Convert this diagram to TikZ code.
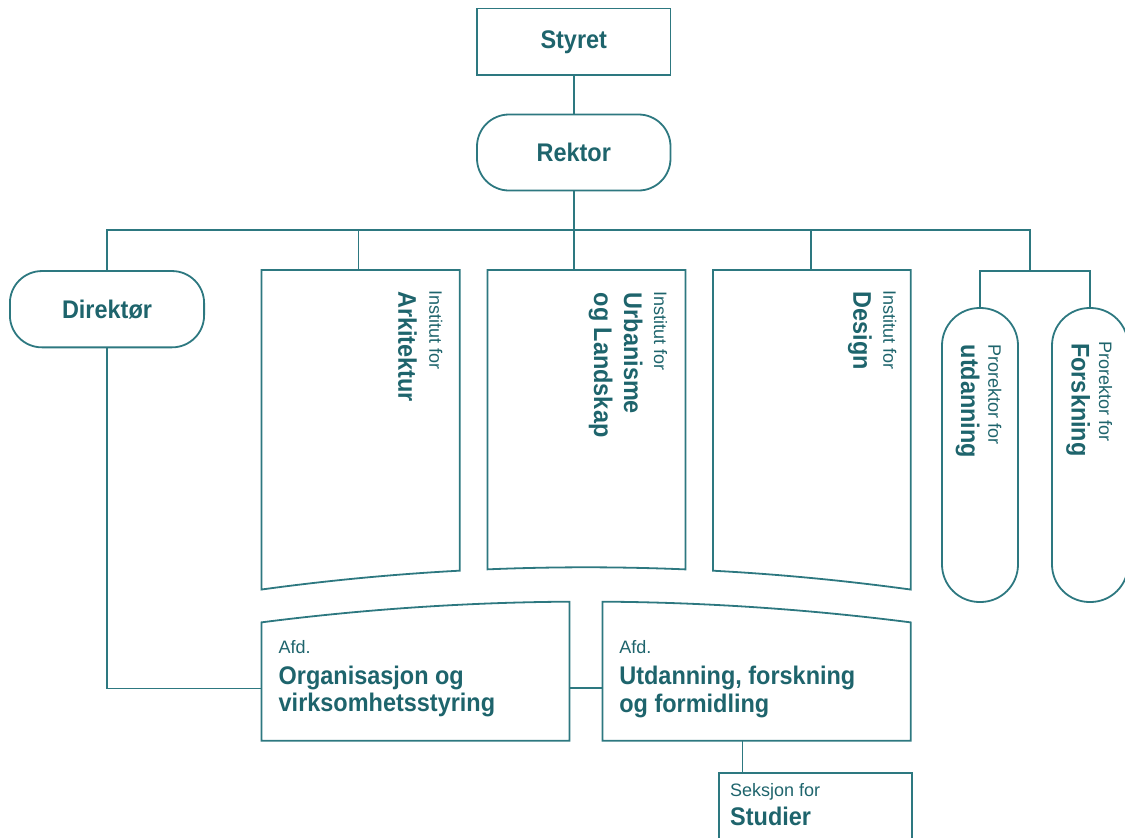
\documentclass[tikz,border=0pt]{standalone}
\usepackage{fontspec}
\setmainfont{Liberation Sans}[BoldFeatures={FakeStretch=0.92}]
\definecolor{tealtext}{HTML}{1E646C}
\definecolor{tealline}{HTML}{2D7880}
\newcommand\kbig{\fontsize{25.5pt}{28pt}\selectfont\bfseries}
\newcommand\ksmall{\fontsize{18pt}{22pt}\selectfont}
\begin{document}
\begin{tikzpicture}[x=1pt,y=-1pt,
  declare function={yI(\t)=567.3+2.11*((\t-586)/100)*((\t-586)/100);
                    yA(\t)=601.6+1.97*((\t-586)/100)*((\t-586)/100);},
  frame/.style={draw=tealline, line width=1.8pt},
  link/.style={draw=tealline, line width=1.8pt},
  big/.style={text=tealtext, font=\kbig, inner sep=0pt},
  small/.style={text=tealtext, font=\ksmall, inner sep=0pt},
  vert/.style={rotate=-90, anchor=base west},
  hz/.style={anchor=base west}]
\useasboundingbox (0,0) rectangle (1125,838);
\clip (0,0) rectangle (1125,838);

% top boxes
\node[frame, big, minimum width=193.5pt, minimum height=66.5pt] (styret) at (573.75,41.75) {Styret};
\node[frame, big, rounded corners=32pt, minimum width=193.5pt, minimum height=76pt] (rektor) at (573.75,152.5) {Rektor};
\node[frame, big, rounded corners=32pt, minimum width=194.2pt, minimum height=76.3pt] (direktor) at (107,309.2) {Direktør};

% prorektor boxes
\node[frame, rounded corners=37.5pt, minimum width=76pt, minimum height=294pt] (pu) at (980,455) {};
\node[frame, rounded corners=37.5pt, minimum width=76pt, minimum height=294pt] (pf) at (1090,455) {};

% institute boxes
\draw[frame] (459.8,270) -- (261.5,270) -- plot[domain=261.5:459.8, samples=30, variable=\t] (\t,{yI(\t)}) -- cycle;
\draw[frame] (685.5,270) -- (487.5,270) -- plot[domain=487.5:685.5, samples=30, variable=\t] (\t,{yI(\t)}) -- cycle;
\draw[frame] (910.8,270) -- (713,270) -- plot[domain=713:910.8, samples=30, variable=\t] (\t,{yI(\t)}) -- cycle;
\coordinate (ark) at (358.5,270);
\coordinate (urb) at (573.75,270);
\coordinate (des) at (811,270);

% afd boxes
\draw[frame] (261.5,740.7) -- plot[domain=261.5:569.5, samples=30, variable=\t] (\t,{yA(\t)}) -- (569.5,740.7) -- cycle;
\draw[frame] (602.5,740.7) -- plot[domain=602.5:910.8, samples=30, variable=\t] (\t,{yA(\t)}) -- (910.8,740.7) -- cycle;
\coordinate (orgW) at (261.5,688.5);
\coordinate (orgE) at (569.5,688);
\coordinate (uffW) at (602.5,688);
\coordinate (uffS) at (742.5,740.7);

% seksjon box
\node[frame, anchor=north west, minimum width=192.8pt, minimum height=90pt] (seks) at (718,771.7) {};

% connectors
\coordinate (bus) at (573.75,229.7);
\coordinate (proj) at (1030,270.7);
\draw[link] (styret) -- (rektor);
\draw[link] (rektor.south) -- (bus);
\draw[link] (direktor.north) |- (bus) -| (proj);
\draw[link] (pu.north) |- (proj) -| (pf.north);
\draw[link] (ark) -- (ark |- bus);
\draw[link] (urb) -- (bus);
\draw[link] (des) -- (des |- bus);
\draw[link] (direktor.south) |- (orgW);
\draw[link] (orgE) -- (uffW);
\draw[link] (uffS) -- (uffS |- seks.north);

% rotated texts
\node[small, vert] (arkS) at (429.3,290) {Institut for};
\node[big, vert] (arkB) at (398.3,291) {Arkitektur};
\node[small, vert] (urbS) at (654,291.7) {Institut for};
\node[big, vert] (urbB1) at (624,292.5) {Urbanisme};
\node[big, vert] (urbB2) at (594,292.5) {og Landskap};
\node[small, vert] (desS) at (883.3,290) {Institut for};
\node[big, vert] (desB) at (853.3,291.5) {Design};
\node[small, vert] (puS) at (988.3,344) {Prorektor for};
\node[big, vert] (puB) at (961,344.5) {utdanning};
\node[small, vert] (pfS) at (1099,341.7) {Prorektor for};
\node[big, vert] (pfB) at (1071.7,343) {Forskning};

% bottom texts
\node[small, hz] (orgA) at (278.5,653.3) {Afd.};
\node[big, hz] (orgT1) at (278.5,684.3) {Organisasjon og};
\node[big, hz] (orgT2) at (278.5,711.7) {virksomhetsstyring};
\node[small, hz] (uffA) at (619.2,653.3) {Afd.};
\node[big, hz] (uffT1) at (619.2,684.7) {Utdanning, forskning};
\node[big, hz] (uffT2) at (619.2,712.3) {og formidling};
\node[small, hz] (seksA) at (730,796.7) {Seksjon for};
\node[big, hz] (seksB) at (730,825) {Studier};
\end{tikzpicture}
\end{document}
